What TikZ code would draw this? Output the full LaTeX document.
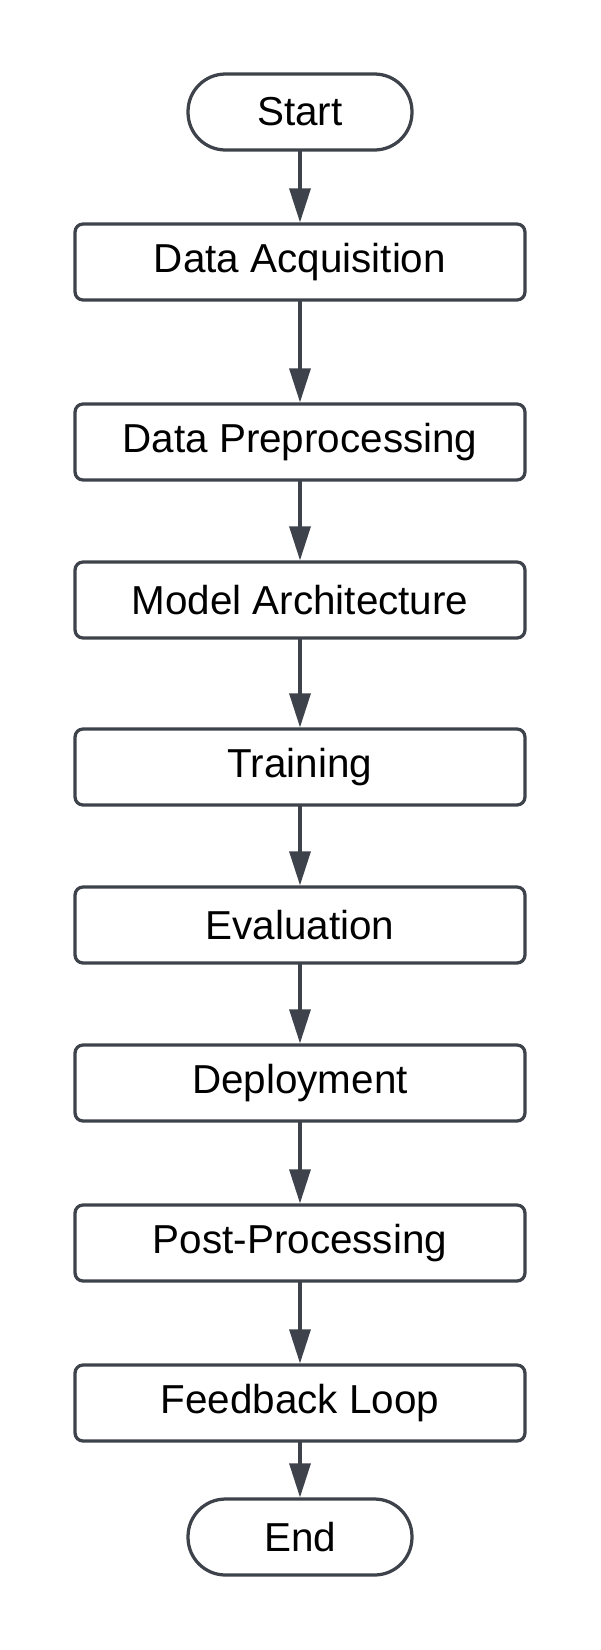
\documentclass[tikz,border=0pt]{standalone}
\usepackage{fontspec}
\setmainfont{Liberation Sans}
\usetikzlibrary{arrows.meta}
\definecolor{edgegray}{RGB}{62,66,74}
\tikzset{
  stepbox/.style={draw=edgegray,line width=0.065cm,rounded corners=0.16cm,minimum width=9cm,minimum height=1.52cm,font=\fontsize{23}{27}\selectfont},
  termbox/.style={draw=edgegray,line width=0.065cm,rounded corners=0.75cm,minimum width=4.48cm,minimum height=1.52cm,font=\fontsize{23}{27}\selectfont},
  flow/.style={->,draw=edgegray,line width=0.065cm}
}
\begin{document}
\begin{tikzpicture}[line cap=round,line join=round,>={Triangle[length=0.68cm,width=0.42cm]},x=0.02cm,y=-0.02cm]
\useasboundingbox (0,0) rectangle (600,1650);

\node[termbox] (start) at (300,112) {Start};
\node[stepbox] (acq) at (300,262) {Data Acquisition};
\node[stepbox] (prep) at (300,442) {Data Preprocessing};
\node[stepbox] (arch) at (300,600) {Model Architecture};
\node[stepbox] (train) at (300,767) {Training};
\node[stepbox] (eval) at (300,925) {Evaluation};
\node[stepbox] (deploy) at (300,1083) {Deployment};
\node[stepbox] (post) at (300,1243) {Post-Processing};
\node[stepbox] (feed) at (300,1403) {Feedback Loop};
\node[termbox] (finish) at (300,1537) {End};

\draw[flow] (start) -- (acq);
\draw[flow] (acq) -- (prep);
\draw[flow] (prep) -- (arch);
\draw[flow] (arch) -- (train);
\draw[flow] (train) -- (eval);
\draw[flow] (eval) -- (deploy);
\draw[flow] (deploy) -- (post);
\draw[flow] (post) -- (feed);
\draw[flow] (feed) -- (finish);
\end{tikzpicture}
\end{document}
